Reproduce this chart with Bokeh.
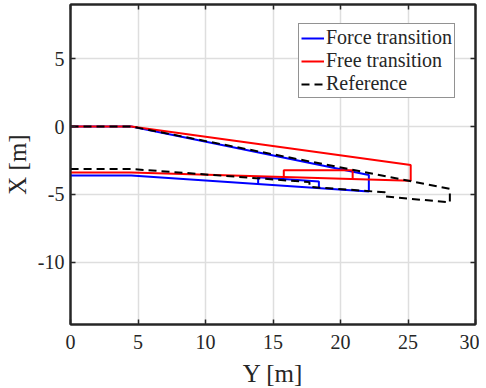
from bokeh.plotting import figure
from bokeh.models import Range1d, LinearAxis, FixedTicker, Legend, LegendItem
from bokeh.embed import file_html
from bokeh.resources import INLINE

# ---- data (horizontal = Y [m], vertical = X [m]) ----
force_main_y = [0, 4.5, 22.1, 22.1, 4.5, 0]
force_main_x = [0, 0, -3.57, -4.8, -3.62, -3.62]
force_box_y = [13.9, 13.9, 18.4, 18.4]
force_box_x = [-4.26, -3.74, -4.06, -4.56]

free_main_y = [0, 4.5, 25.2, 25.2, 4.5, 0]
free_main_x = [0, 0, -2.83, -4.0, -3.39, -3.39]
free_box_y = [15.8, 15.8, 20.9, 20.9]
free_box_x = [-3.72, -3.22, -3.22, -3.87]

ref_y = [0, 4.5, 28.1, 28.1, 23.3, 23.3, 17.7, 17.7, 4.5, 0]
ref_x = [0, 0, -4.6, -5.6, -5.15, -4.85, -4.45, -4.1, -3.13, -3.13]

x_ticks = [0, 5, 10, 15, 20, 25, 30]
x_tick_labels = ["0", "5", "10", "15", "20", "25", "30"]
y_ticks = [-10, -5, 0, 5]
y_tick_labels = ["-10", "-5", "0", "5"]

FONT = "Liberation Serif, serif"
AX = "#262626"

p = figure(frame_width=405, frame_height=320, output_backend="svg", toolbar_location=None,
           x_range=Range1d(0, 30), y_range=Range1d(-14.6, 9.0),
           min_border_left=4, min_border_right=4, min_border_top=4, min_border_bottom=2)

xa = p.below[0]
ya = p.left[0]

for ax in (xa, ya):
    ax.axis_label_text_font_style = "normal"
    ax.axis_line_color = AX
    ax.axis_line_width = 2
    ax.major_tick_line_color = AX
    ax.major_tick_line_width = 1.5
    ax.major_tick_in = 5
    ax.major_tick_out = 0
    ax.minor_tick_line_color = None
    ax.major_label_text_font = FONT
    ax.major_label_text_font_size = "20px"
    ax.major_label_text_color = AX
    ax.axis_label_text_font = FONT
    ax.axis_label_text_font_size = "25px"
    ax.axis_label_text_color = AX

xa.ticker = FixedTicker(ticks=x_ticks)
ya.ticker = FixedTicker(ticks=y_ticks)
xa.major_label_overrides = dict(zip(x_ticks, x_tick_labels))
ya.major_label_overrides = dict(zip(y_ticks, y_tick_labels))
xa.axis_label = "Y [m]"
ya.axis_label = "X [m]"
xa.major_label_standoff = 10
ya.major_label_standoff = 6
xa.axis_label_standoff = 8
ya.axis_label_standoff = 4

for loc, tk in (("right", y_ticks), ("above", x_ticks)):
    a = LinearAxis(ticker=FixedTicker(ticks=tk),
                   major_label_overrides={t: "" for t in tk},
                   major_label_standoff=0, axis_line_color=AX, axis_line_width=2,
                   major_tick_line_color=AX, major_tick_line_width=1.5,
                   major_tick_in=5, major_tick_out=0, minor_tick_line_color=None)
    p.add_layout(a, loc)

p.xgrid.ticker = FixedTicker(ticks=x_ticks)
p.ygrid.ticker = FixedTicker(ticks=y_ticks)
for g in (p.xgrid[0], p.ygrid[0]):
    g.grid_line_color = "#dedede"
    g.grid_line_width = 1.5

p.outline_line_color = AX
p.outline_line_width = 2

r_f1 = p.line(force_main_y, force_main_x, color="#0000ff", line_width=2)
p.line(force_box_y, force_box_x, color="#0000ff", line_width=2)
r_r1 = p.line(free_main_y, free_main_x, color="#ff0000", line_width=2)
p.line(free_box_y, free_box_x, color="#ff0000", line_width=2)
r_ref = p.line(ref_y, ref_x, color="black", line_width=2, line_dash="8 5")

legend = Legend(items=[LegendItem(label="Force transition", renderers=[r_f1]),
                       LegendItem(label="Free transition", renderers=[r_r1]),
                       LegendItem(label="Reference", renderers=[r_ref])],
                location=(228, 226))
legend.label_text_font = FONT
legend.label_text_font_size = "20px"
legend.label_text_color = AX
legend.border_line_color = AX
legend.border_line_width = 1.5
legend.background_fill_alpha = 1
legend.padding = 2
legend.spacing = 0
legend.margin = 0
legend.glyph_width = 23
legend.glyph_height = 22
legend.label_height = 22
legend.label_standoff = 2
p.add_layout(legend, "center")

open("out.html", "w").write(file_html(p, INLINE))
